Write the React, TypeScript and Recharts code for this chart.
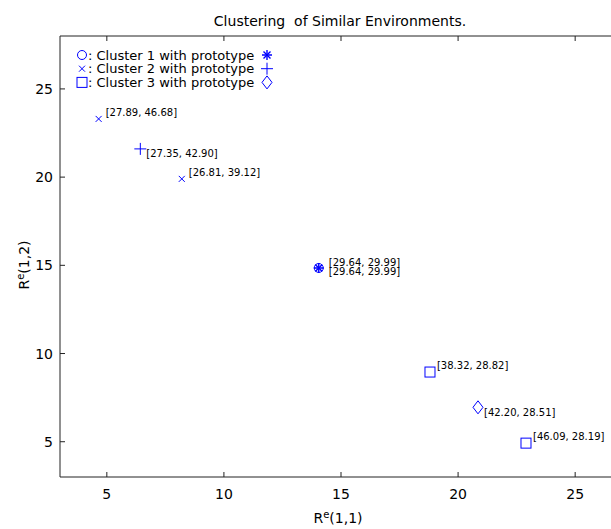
import React from "react";
import { ScatterChart, Scatter, XAxis, YAxis } from "recharts";

// cluster members: x, y and the tag printed beside each point
const cluster1X = [14.05];
const cluster1Y = [14.85];
const cluster1Tags = ["[29.64, 29.99]"];

const cluster2X = [4.65, 8.2];
const cluster2Y = [23.3, 19.9];
const cluster2Tags = ["[27.89, 46.68]", "[26.81, 39.12]"];

const cluster3X = [18.8, 22.9];
const cluster3Y = [8.95, 4.92];
const cluster3Tags = ["[38.32, 28.82]", "[46.09, 28.19]"];

// prototypes
const proto1X = [14.05];
const proto1Y = [14.85];
const proto1Tags = ["[29.64, 29.99]"];

const proto2X = [6.43];
const proto2Y = [21.6];
const proto2Tags = ["[27.35, 42.90]"];

const proto3X = [20.85];
const proto3Y = [6.95];
const proto3Tags = ["[42.20, 28.51]"];

const xTicks = [5, 10, 15, 20, 25];
const yTicks = [5, 10, 15, 20, 25];
const legendNames = [
  ": Cluster 1 with prototype",
  ": Cluster 2 with prototype",
  ": Cluster 3 with prototype",
];

const BLUE = "#0000ff";
const AXIS = "#222";
const FONT = "'DejaVu Sans', sans-serif";

const toPoints = (xs: number[], ys: number[], tags: string[]) =>
  xs.map((x, i) => ({ x, y: ys[i], tag: tags[i] }));

type MarkerKind = "circle" | "cross" | "square" | "star" | "plus" | "diamond";

const Marker = ({ kind, cx, cy }: { kind: MarkerKind; cx: number; cy: number }) => {
  const p = { stroke: BLUE, strokeWidth: 1, fill: "none" };
  switch (kind) {
    case "circle":
      return <circle cx={cx} cy={cy} r={4.5} {...p} />;
    case "cross":
      return (
        <path
          d={`M${cx - 3} ${cy - 3}L${cx + 3} ${cy + 3}M${cx - 3} ${cy + 3}L${cx + 3} ${cy - 3}`}
          {...p}
        />
      );
    case "square":
      return <rect x={cx - 5} y={cy - 5} width={10} height={10} {...p} />;
    case "plus":
      return <path d={`M${cx - 6} ${cy}H${cx + 6}M${cx} ${cy - 6}V${cy + 6}`} {...p} />;
    case "diamond":
      return (
        <path
          d={`M${cx} ${cy - 6.5}L${cx + 5} ${cy}L${cx} ${cy + 6.5}L${cx - 5} ${cy}Z`}
          {...p}
        />
      );
    case "star":
      return (
        <g {...p} strokeWidth={1.4}>
          <path d={`M${cx - 5} ${cy}H${cx + 5}M${cx} ${cy - 5}V${cy + 5}`} />
          <path
            d={`M${cx - 3.5} ${cy - 3.5}L${cx + 3.5} ${cy + 3.5}M${cx - 3.5} ${cy + 3.5}L${cx + 3.5} ${cy - 3.5}`}
          />
        </g>
      );
  }
  return null;
};

const makeShape =
  (kind: MarkerKind, dx: number, dy: number) =>
  (props: any) => {
    const { cx, cy, payload } = props;
    return (
      <g>
        <Marker kind={kind} cx={cx} cy={cy} />
        <text x={cx + dx} y={cy + dy} fontSize={10} fontFamily={FONT} fill="#000">
          {payload.tag}
        </text>
      </g>
    );
  };

const BottomTick = (props: any) => {
  const { x, y, payload } = props;
  return (
    <g>
      <line x1={x} y1={y} x2={x} y2={y - 5} stroke={AXIS} />
      <text x={x} y={y + 22} textAnchor="middle" fontSize={14} fontFamily={FONT} fill="#000">
        {payload.value}
      </text>
    </g>
  );
};

const TopTick = (props: any) => {
  const { x, y } = props;
  return <line x1={x} y1={y} x2={x} y2={y + 5} stroke={AXIS} />;
};

const LeftTick = (props: any) => {
  const { x, y, payload } = props;
  return (
    <g>
      <line x1={x} y1={y} x2={x + 5} y2={y} stroke={AXIS} />
      <text x={x - 7} y={y + 5} textAnchor="end" fontSize={14} fontFamily={FONT} fill="#000">
        {payload.value}
      </text>
    </g>
  );
};

const legendLeft: MarkerKind[] = ["circle", "cross", "square"];
const legendRight: MarkerKind[] = ["star", "plus", "diamond"];

// title, legend and axis names, in page pixels
const Overlay = () => (
  <svg
    width={611}
    height={529}
    style={{ position: "absolute", left: 0, top: 0, pointerEvents: "none" }}
  >
    <text
      x={340}
      y={26}
      textAnchor="middle"
      fontSize={14}
      fontFamily={FONT}
      fill="#000"
      style={{ whiteSpace: "pre" }}
    >
      {"Clustering  of Similar Environments."}
    </text>
    {legendNames.map((name, i) => {
      const cy = 55 + i * 13.7;
      return (
        <g key={name}>
          <Marker kind={legendLeft[i]} cx={82} cy={cy} />
          <text x={88} y={cy + 4.7} fontSize={13} fontFamily={FONT} fill="#000">
            {name}
          </text>
          <Marker kind={legendRight[i]} cx={267} cy={cy} />
        </g>
      );
    })}
    <text x={338} y={523} textAnchor="middle" fontSize={14} fontFamily={FONT} fill="#000">
      R<tspan dy={-5} fontSize={10}>e</tspan>
      <tspan dy={5}>(1,1)</tspan>
    </text>
    <text
      transform="translate(29 265) rotate(-90)"
      textAnchor="middle"
      fontSize={14}
      fontFamily={FONT}
      fill="#000"
    >
      R<tspan dy={-5} fontSize={10}>e</tspan>
      <tspan dy={5}>(1,2)</tspan>
    </text>
  </svg>
);

export default function App() {
  return (
    <div
      style={{
        position: "fixed",
        left: 0,
        top: 0,
        width: 611,
        height: 529,
        overflow: "hidden",
        background: "#fff",
      }}
    >
      <ScatterChart width={622} height={529} margin={{ top: 0, right: 0, bottom: 0, left: 0 }}>
        <XAxis
          xAxisId="b"
          type="number"
          dataKey="x"
          domain={[3, 27]}
          ticks={xTicks}
          height={52}
          tickSize={0}
          tickMargin={0}
          stroke={AXIS}
          tick={<BottomTick />}
          allowDataOverflow
        />
        <XAxis
          xAxisId="t"
          orientation="top"
          type="number"
          dataKey="x"
          domain={[3, 27]}
          ticks={xTicks}
          height={36}
          tickSize={0}
          tickMargin={0}
          stroke={AXIS}
          tick={<TopTick />}
          allowDataOverflow
        />
        <YAxis
          yAxisId="l"
          type="number"
          dataKey="y"
          domain={[3, 28]}
          ticks={yTicks}
          width={60}
          tickSize={0}
          tickMargin={0}
          stroke={AXIS}
          tick={<LeftTick />}
          allowDataOverflow
        />
        <Scatter
          xAxisId="b"
          yAxisId="l"
          data={toPoints(cluster1X, cluster1Y, cluster1Tags)}
          shape={makeShape("circle", 10, -2)}
          isAnimationActive={false}
        />
        <Scatter
          xAxisId="b"
          yAxisId="l"
          data={toPoints(proto1X, proto1Y, proto1Tags)}
          shape={makeShape("star", 10, 7.5)}
          isAnimationActive={false}
        />
        <Scatter
          xAxisId="b"
          yAxisId="l"
          data={toPoints(cluster2X, cluster2Y, cluster2Tags)}
          shape={makeShape("cross", 7, -2.5)}
          isAnimationActive={false}
        />
        <Scatter
          xAxisId="b"
          yAxisId="l"
          data={toPoints(proto2X, proto2Y, proto2Tags)}
          shape={makeShape("plus", 6, 8.5)}
          isAnimationActive={false}
        />
        <Scatter
          xAxisId="b"
          yAxisId="l"
          data={toPoints(cluster3X, cluster3Y, cluster3Tags)}
          shape={makeShape("square", 7, -3)}
          isAnimationActive={false}
        />
        <Scatter
          xAxisId="b"
          yAxisId="l"
          data={toPoints(proto3X, proto3Y, proto3Tags)}
          shape={makeShape("diamond", 6, 8.5)}
          isAnimationActive={false}
        />
      </ScatterChart>
      <Overlay />
    </div>
  );
}
